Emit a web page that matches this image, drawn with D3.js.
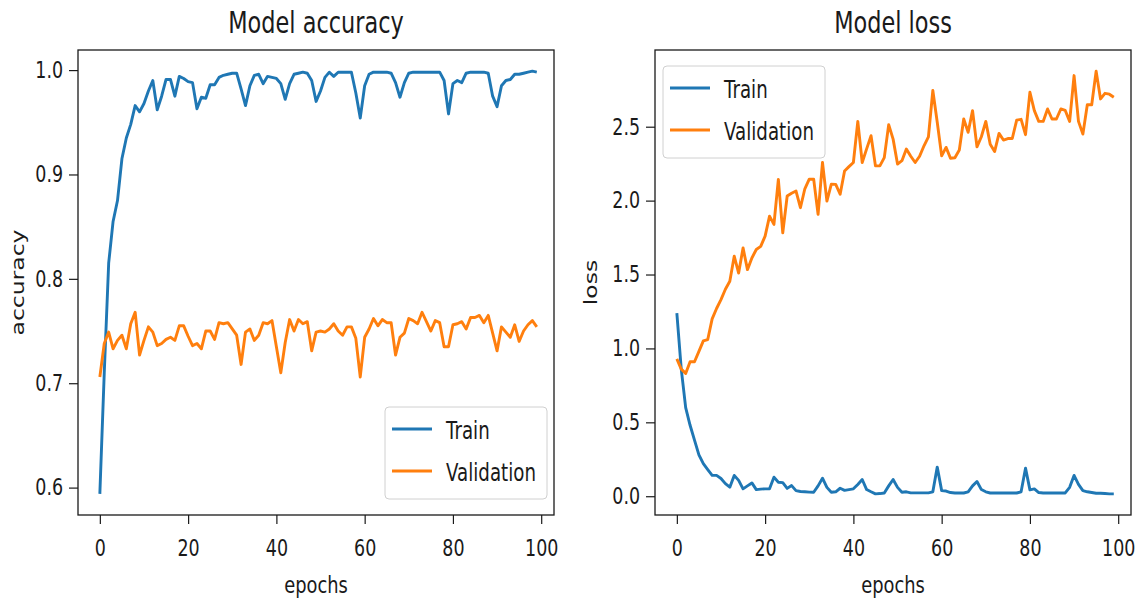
<!DOCTYPE html>
<html>
<head>
<meta charset="utf-8">
<script src="https://cdn.jsdelivr.net/npm/d3@7/dist/d3.min.js"></script>
<style>
  body { margin: 0; background: #fff; }
  text { font-family: "DejaVu Sans", sans-serif; fill: #1a1a1a; }
</style>
</head>
<body>
<div id="chart"></div>
<script>
// values (100 epochs)
var trainAcc = [0.594,0.71,0.815,0.855,0.875,0.915,0.935,0.948,0.966,0.96,
  0.968,0.98,0.99,0.962,0.975,0.991,0.991,0.975,0.994,0.992,
  0.989,0.988,0.963,0.974,0.973,0.986,0.986,0.993,0.995,0.996,
  0.997,0.997,0.982,0.966,0.985,0.995,0.996,0.987,0.994,0.993,
  0.992,0.987,0.972,0.987,0.996,0.997,0.998,0.997,0.99,0.97,
  0.98,0.993,0.998,0.994,0.998,0.998,0.998,0.998,0.978,0.954,
  0.985,0.996,0.998,0.998,0.998,0.998,0.997,0.988,0.974,0.988,
  0.997,0.998,0.998,0.998,0.998,0.998,0.998,0.998,0.99,0.958,
  0.987,0.99,0.988,0.997,0.998,0.998,0.998,0.998,0.997,0.975,
  0.965,0.985,0.99,0.991,0.996,0.996,0.997,0.998,0.999,0.998];

var valAcc = [0.706,0.738,0.749,0.733,0.741,0.746,0.733,0.757,0.768,0.727,
  0.741,0.754,0.749,0.736,0.738,0.742,0.744,0.741,0.755,0.755,
  0.745,0.736,0.738,0.733,0.75,0.75,0.742,0.758,0.757,0.758,
  0.752,0.746,0.718,0.749,0.752,0.741,0.746,0.758,0.757,0.76,
  0.735,0.71,0.739,0.761,0.75,0.761,0.757,0.759,0.731,0.749,
  0.75,0.749,0.752,0.757,0.75,0.746,0.754,0.754,0.743,0.706,
  0.744,0.752,0.762,0.755,0.761,0.758,0.758,0.727,0.744,0.748,
  0.762,0.76,0.757,0.768,0.759,0.75,0.76,0.758,0.735,0.735,
  0.756,0.757,0.759,0.752,0.763,0.763,0.765,0.758,0.765,0.748,
  0.731,0.754,0.749,0.744,0.756,0.74,0.75,0.756,0.76,0.754];

var trainLoss = [1.239,0.86,0.6,0.48,0.38,0.28,0.22,0.18,0.141,0.141,
  0.12,0.085,0.061,0.141,0.107,0.05,0.07,0.09,0.045,0.048,
  0.05,0.05,0.129,0.095,0.092,0.053,0.072,0.038,0.032,0.03,
  0.028,0.027,0.07,0.122,0.06,0.027,0.03,0.054,0.04,0.045,
  0.05,0.08,0.113,0.045,0.03,0.016,0.018,0.022,0.07,0.113,
  0.06,0.027,0.03,0.023,0.023,0.023,0.023,0.023,0.03,0.197,
  0.038,0.035,0.025,0.022,0.022,0.022,0.03,0.07,0.1,0.045,
  0.03,0.022,0.022,0.022,0.022,0.022,0.022,0.022,0.03,0.19,
  0.043,0.05,0.025,0.022,0.022,0.022,0.022,0.022,0.022,0.06,
  0.141,0.08,0.038,0.03,0.025,0.02,0.02,0.018,0.016,0.016];

var valLoss = [0.929,0.86,0.831,0.91,0.91,0.98,1.051,1.06,1.2,1.27,
  1.33,1.4,1.454,1.624,1.51,1.68,1.533,1.612,1.669,1.69,
  1.76,1.895,1.839,2.144,1.782,2.031,2.05,2.065,1.952,2.08,
  2.145,2.145,1.907,2.258,1.997,2.111,2.11,2.043,2.2,2.23,
  2.258,2.536,2.258,2.35,2.439,2.235,2.235,2.291,2.514,2.416,
  2.247,2.27,2.349,2.3,2.258,2.3,2.371,2.432,2.745,2.53,
  2.303,2.36,2.287,2.29,2.342,2.552,2.462,2.609,2.364,2.432,
  2.536,2.382,2.332,2.455,2.41,2.42,2.42,2.545,2.55,2.446,
  2.733,2.609,2.536,2.536,2.62,2.552,2.552,2.62,2.61,2.536,
  2.846,2.536,2.45,2.649,2.649,2.876,2.688,2.726,2.72,2.699];

var epochTicks = [0, 20, 40, 60, 80, 100];
var accTicks = [0.6, 0.7, 0.8, 0.9, 1.0];
var lossTicks = [0.0, 0.5, 1.0, 1.5, 2.0, 2.5];
var seriesNames = ["Train", "Validation"];
var colors = ["#1f77b4", "#ff7f0e"];

// the picture is squeezed sideways, so text gets a horizontal squash
var SX = 0.76;
var plotTop = 50, plotBottom = 515, plotW = 476;

var svg = d3.select("#chart")
  .append("svg")
  .attr("width", 1142)
  .attr("height", 605);

function drawPanel(p) {
  var x = d3.scaleLinear().domain([-4.95, 102.9]).range([p.left, p.left + plotW]);

  // matplotlib style 5% margins
  var all = p.train.concat(p.val);
  var lo = d3.min(all), hi = d3.max(all), pad = (hi - lo) * 0.05;
  var y = d3.scaleLinear().domain([lo - pad, hi + pad]).range([plotBottom, plotTop]);

  // lines
  var line = d3.line()
    .x(function (d, i) { return x(i); })
    .y(function (d) { return y(d); });

  [p.train, p.val].forEach(function (s, k) {
    svg.append("path")
      .datum(s)
      .attr("fill", "none")
      .attr("stroke", colors[k])
      .attr("stroke-width", 2.9)
      .attr("stroke-linejoin", "round")
      .attr("d", line);
  });

  // X axis
  var gx = svg.append("g")
    .attr("transform", "translate(0," + plotBottom + ")")
    .call(d3.axisBottom(x).tickValues(epochTicks).tickSize(9).tickPadding(16))
    .attr("font-size", 23)
    .attr("font-family", "DejaVu Sans");
  gx.select(".domain").remove();
  gx.selectAll(".tick line").attr("stroke", "#1a1a1a").attr("stroke-width", 1.2);
  gx.selectAll(".tick text").attr("transform", "scale(" + SX + ",1)");

  // Y axis
  var gy = svg.append("g")
    .attr("transform", "translate(" + p.left + ",0)")
    .call(d3.axisLeft(y).tickValues(p.ticks).tickFormat(d3.format(".1f")).tickSize(9).tickPadding(10.7))
    .attr("font-size", 23)
    .attr("font-family", "DejaVu Sans");
  gy.select(".domain").remove();
  gy.selectAll(".tick line").attr("stroke", "#1a1a1a").attr("stroke-width", 1.2);
  gy.selectAll(".tick text").attr("transform", "scale(" + SX + ",1)");

  // frame
  svg.append("rect")
    .attr("x", p.left).attr("y", plotTop)
    .attr("width", plotW).attr("height", plotBottom - plotTop)
    .attr("fill", "none")
    .attr("stroke", "#1a1a1a")
    .attr("stroke-width", 1.3);

  var cx = p.left + plotW / 2;

  // title
  svg.append("text")
    .attr("transform", "translate(" + cx + ",33) scale(" + SX + ",1)")
    .attr("text-anchor", "middle")
    .style("font-size", "29.5px")
    .text(p.title);

  // axis labels
  svg.append("text")
    .attr("transform", "translate(" + cx + ",593) scale(" + SX + ",1)")
    .attr("text-anchor", "middle")
    .style("font-size", "23.5px")
    .text("epochs");

  svg.append("text")
    .attr("transform", "translate(" + p.ylabelX + "," + (plotTop + plotBottom) / 2 + ") scale(" + SX + ",1) rotate(-90)")
    .attr("text-anchor", "middle")
    .style("font-size", "23.5px")
    .text(p.ylabel);

  // legend
  var lg = svg.append("g").attr("transform", "translate(" + p.legX + "," + p.legY + ")");
  lg.append("rect")
    .attr("width", 162).attr("height", 92)
    .attr("rx", 4)
    .attr("fill", "#fff").attr("fill-opacity", 0.8)
    .attr("stroke", "#d0d0d0");
  seriesNames.forEach(function (name, k) {
    var ry = 22 + k * 42;
    lg.append("line")
      .attr("x1", 7).attr("x2", 47)
      .attr("y1", ry).attr("y2", ry)
      .attr("stroke", colors[k])
      .attr("stroke-width", 2.9);
    lg.append("text")
      .attr("transform", "translate(61," + ry + ") scale(" + SX + ",1)")
      .attr("dy", "0.42em")
      .style("font-size", "24px")
      .text(name);
  });
}

drawPanel({
  left: 78, train: trainAcc, val: valAcc, ticks: accTicks,
  title: "Model accuracy", ylabel: "accuracy", ylabelX: 24,
  legX: 385, legY: 407
});

drawPanel({
  left: 655, train: trainLoss, val: valLoss, ticks: lossTicks,
  title: "Model loss", ylabel: "loss", ylabelX: 597,
  legX: 663, legY: 66
});
</script>
</body>
</html>
